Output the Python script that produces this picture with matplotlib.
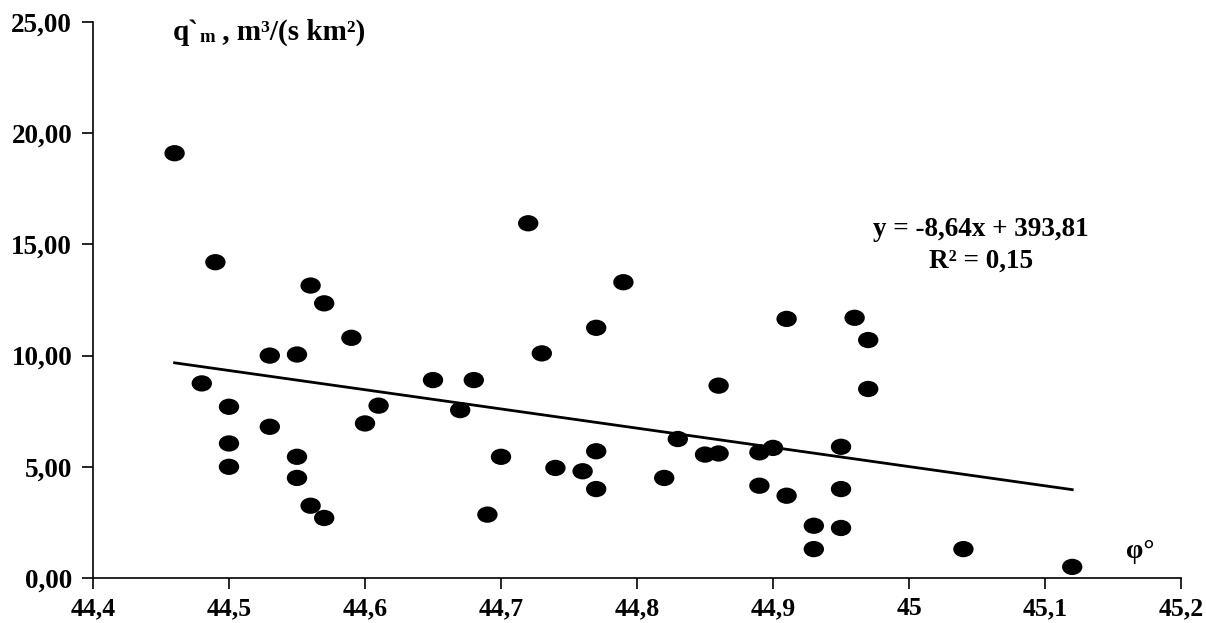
import numpy as np
import matplotlib
matplotlib.use("Agg")
import matplotlib.pyplot as plt
from matplotlib.ticker import FuncFormatter
from matplotlib.path import Path
from matplotlib.transforms import Affine2D

# latitude (deg) and specific discharge q`m
lat = [44.46, 44.48, 44.49, 44.50, 44.50, 44.50, 44.53, 44.53, 44.55, 44.55,
       44.55, 44.56, 44.56, 44.57, 44.57, 44.59, 44.60, 44.61, 44.65, 44.67,
       44.68, 44.69, 44.70, 44.72, 44.73, 44.74, 44.76, 44.77, 44.77, 44.77,
       44.79, 44.82, 44.83, 44.85, 44.86, 44.86, 44.89, 44.89, 44.90, 44.91,
       44.91, 44.93, 44.93, 44.95, 44.95, 44.95, 44.96, 44.97, 44.97, 45.04,
       45.12]
qm = [19.10, 8.75, 14.20, 7.70, 6.05, 5.00, 10.00, 6.80, 10.05, 5.45,
      4.50, 13.15, 3.25, 12.35, 2.70, 10.80, 6.95, 7.75, 8.90, 7.55,
      8.90, 2.85, 5.45, 15.95, 10.10, 4.95, 4.80, 11.25, 5.70, 4.00,
      13.30, 4.50, 6.25, 5.55, 8.65, 5.60, 5.65, 4.15, 5.85, 11.65,
      3.70, 2.35, 1.30, 5.90, 4.00, 2.25, 11.70, 10.70, 8.50, 1.30,
      0.50]

slope, intercept, r2 = -8.64, 393.81, 0.15

plt.rcParams['font.family'] = ['Liberation Serif', 'DejaVu Serif']
plt.rcParams['font.weight'] = 'bold'

fig = plt.figure(figsize=(12.06, 6.23), dpi=100)
ax = fig.add_axes([0.0771, 0.0722, 0.9022, 0.8925])

# slightly flattened dot like the original
ellipse = Path.unit_circle().transformed(Affine2D().scale(1.0, 0.8))
ax.scatter(lat, qm, s=215, c='black', marker=ellipse, edgecolors='none', zorder=3)

xfit = np.array([min(lat), max(lat)])
ax.plot(xfit, slope * xfit + intercept, color='black', lw=2)

ax.set_xlim(44.4, 45.2)
ax.set_ylim(0, 25)
ax.set_xticks(np.arange(44.4, 45.21, 0.1))
ax.set_yticks(np.arange(0, 25.1, 5))
ax.xaxis.set_major_formatter(FuncFormatter(lambda v, p: ('%g' % round(v, 1)).replace('.', ',')))
ax.yaxis.set_major_formatter(FuncFormatter(lambda v, p: ('%.2f' % v).replace('.', ',')))
for s in ['top', 'right']:
    ax.spines[s].set_visible(False)
for s in ['left', 'bottom']:
    ax.spines[s].set_linewidth(1.2)
ax.tick_params(direction='out', length=8, width=1.2)
ax.tick_params(axis='x', pad=6, labelsize=18.5)
ax.tick_params(axis='y', pad=7, labelsize=19.5)
for lab in ax.get_xticklabels() + ax.get_yticklabels():
    lab.set_fontweight('bold')

# y axis label built from pieces (small m after q`)
t1 = ax.text(0.073, 0.968, "q`", transform=ax.transAxes, fontsize=21,
             fontweight='bold', va='baseline')
t2 = ax.annotate("m", xy=(1, 0), xycoords=t1, xytext=(1, 0), textcoords='offset points',
                 fontsize=13.5, fontweight='bold', va='bottom')
ax.annotate(" , m³/(s km²)", xy=(1, 0), xycoords=t2, xytext=(0, 0),
            textcoords='offset points', fontsize=21, fontweight='bold', va='bottom')

ax.text(45.053, 15.65, "y = -8,64x + 393,81", fontsize=19.5, fontweight='bold', ha='center', va='center')
ax.text(45.053, 14.25, "R² = 0,15", fontsize=19.5, fontweight='bold', ha='center', va='center')
ax.text(45.17, 1.2, "φ°", fontsize=20, fontweight='bold', ha='center', va='center')

fig.savefig("out.png", dpi=100)
